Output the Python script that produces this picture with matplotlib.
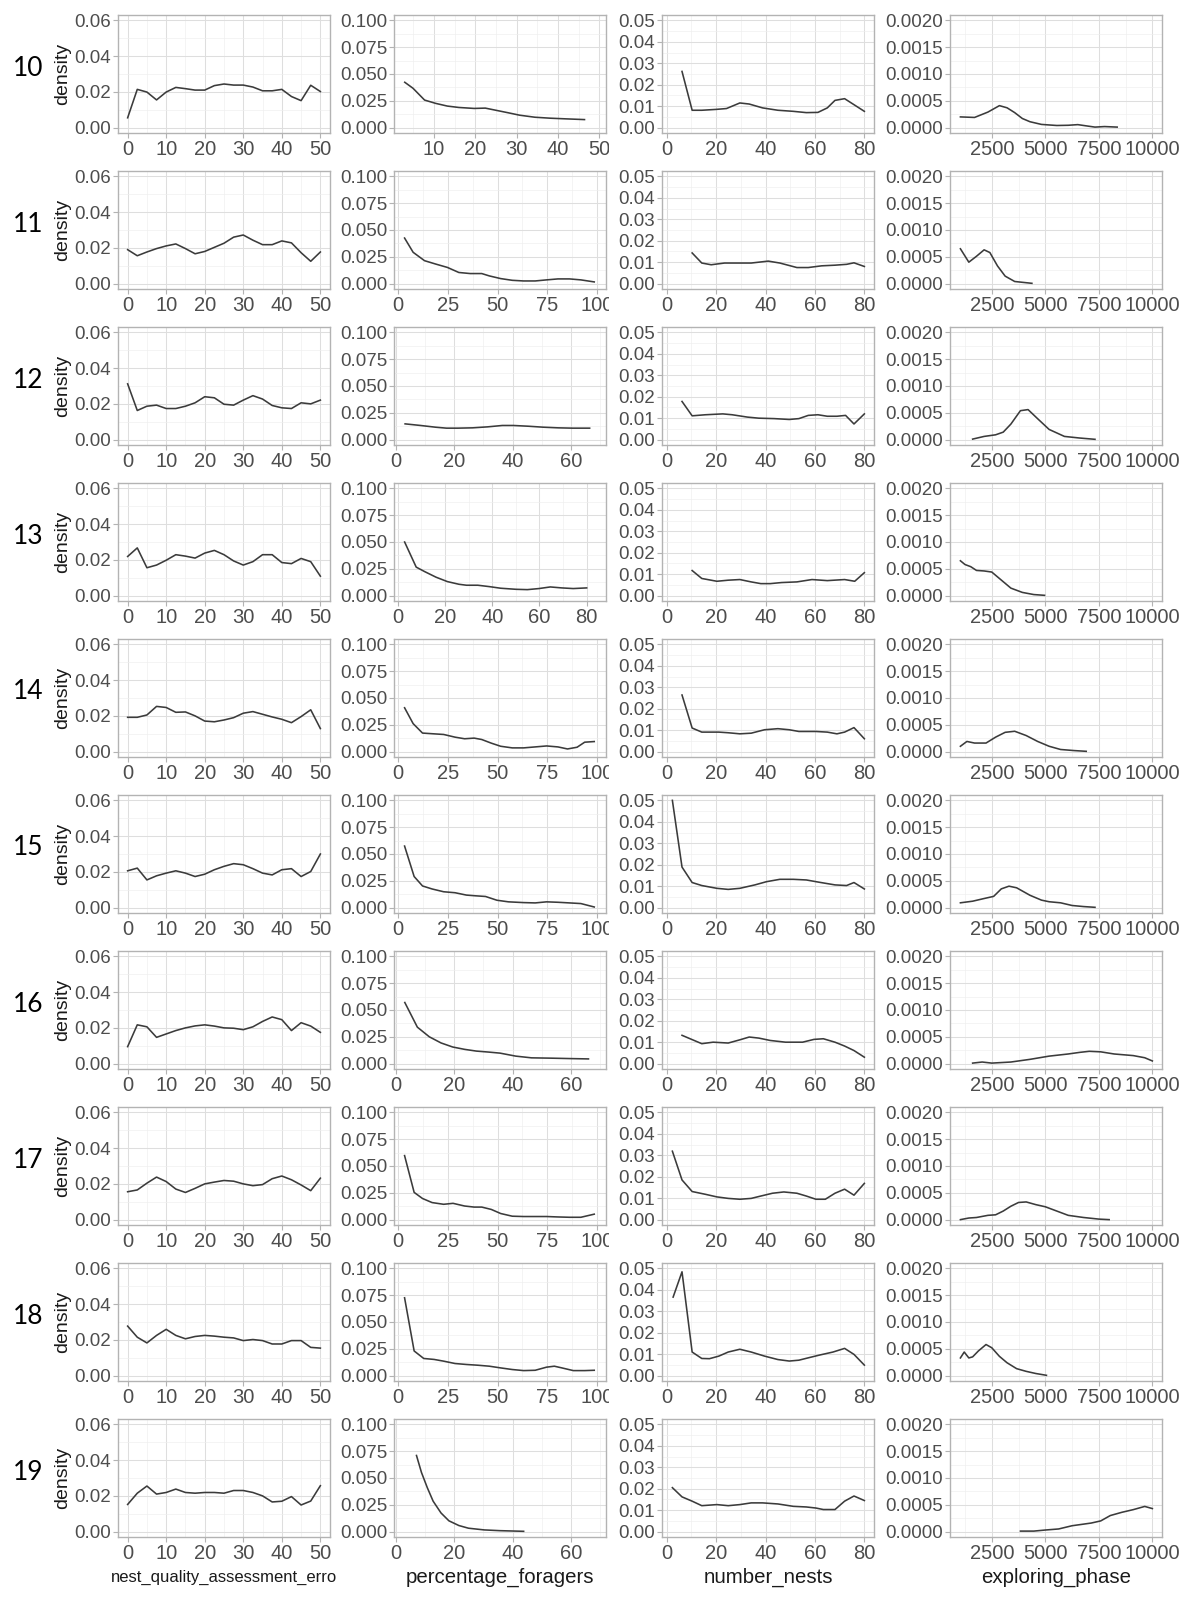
import numpy as np
import matplotlib
matplotlib.use('Agg')
import matplotlib.pyplot as plt
from matplotlib.ticker import FixedLocator, MultipleLocator, FuncFormatter
from matplotlib.transforms import Bbox, TransformedBbox

plt.rcParams['font.family'] = ['Liberation Sans', 'DejaVu Sans']

# row labels (one row of panels each)
rows = ['10', '11', '12', '13', '14', '15', '16', '17', '18', '19']
col_titles = ['nest_quality_assessment_erro', 'percentage_foragers', 'number_nests', 'exploring_phase']

# --- nest_quality_assessment_erro (shared x) ---
nqa_x = [0, 2.5, 5, 7.5, 10, 12.5, 15, 17.5, 20, 22.5, 25, 27.5, 30, 32.5, 35, 37.5, 40, 42.5, 45, 47.5, 50]
nqa_y = [
    [0.0055, 0.0214, 0.0199, 0.0155, 0.0199, 0.0225, 0.0218, 0.021, 0.021, 0.0235, 0.0244, 0.0238, 0.0238, 0.0227, 0.0206, 0.0206, 0.0214, 0.0174, 0.0151, 0.0237, 0.0202],
    [0.019, 0.0156, 0.0177, 0.0196, 0.0211, 0.0222, 0.0196, 0.0167, 0.018, 0.0203, 0.0226, 0.026, 0.0272, 0.0243, 0.0218, 0.0218, 0.0239, 0.0228, 0.0173, 0.0125, 0.0177],
    [0.0312, 0.0163, 0.0187, 0.0193, 0.0174, 0.0174, 0.0187, 0.0206, 0.024, 0.0234, 0.0198, 0.0193, 0.0221, 0.0246, 0.0227, 0.0191, 0.0178, 0.0174, 0.0206, 0.02, 0.0221],
    [0.0219, 0.0267, 0.0156, 0.0171, 0.0198, 0.0229, 0.0221, 0.021, 0.0238, 0.0253, 0.0229, 0.0194, 0.0171, 0.019, 0.0229, 0.0229, 0.0185, 0.0179, 0.0208, 0.019, 0.0109],
    [0.0192, 0.0192, 0.0205, 0.0253, 0.0247, 0.022, 0.0222, 0.02, 0.0171, 0.0167, 0.0177, 0.019, 0.0215, 0.0224, 0.0209, 0.0194, 0.0181, 0.0162, 0.0196, 0.0234, 0.0129],
    [0.0206, 0.0221, 0.0155, 0.0178, 0.0193, 0.0206, 0.0193, 0.0174, 0.0187, 0.0212, 0.0231, 0.0246, 0.024, 0.0218, 0.0193, 0.0183, 0.0212, 0.0218, 0.0174, 0.0202, 0.03],
    [0.0095, 0.0217, 0.0206, 0.0147, 0.0166, 0.0185, 0.02, 0.0211, 0.0217, 0.021, 0.02, 0.0198, 0.019, 0.0206, 0.0236, 0.0261, 0.0246, 0.0185, 0.0229, 0.021, 0.0175],
    [0.0156, 0.0166, 0.0204, 0.0238, 0.0213, 0.0171, 0.0152, 0.0175, 0.02, 0.021, 0.0219, 0.0215, 0.02, 0.019, 0.0196, 0.0229, 0.0244, 0.0223, 0.0194, 0.0162, 0.0232],
    [0.0277, 0.0215, 0.0183, 0.0225, 0.0259, 0.0225, 0.0206, 0.0219, 0.0225, 0.0221, 0.0215, 0.0211, 0.0196, 0.0202, 0.0196, 0.0177, 0.0177, 0.0196, 0.0196, 0.0158, 0.0154],
    [0.0152, 0.0215, 0.0255, 0.021, 0.0219, 0.0238, 0.0219, 0.0215, 0.0219, 0.0219, 0.0215, 0.023, 0.023, 0.0219, 0.02, 0.0166, 0.017, 0.0196, 0.0149, 0.0171, 0.0257],
]

# --- percentage_foragers ---
pf_x = [
    [2.9, 4.9, 7.7, 10.4, 13.2, 16, 19.7, 22.4, 25.2, 28, 30.7, 34.4, 38.1, 41.8, 46.4],
    [3.4, 7.7, 13.4, 19.1, 24.9, 30.6, 36.3, 42.1, 45.9, 51.6, 57.4, 63.1, 68.9, 74.6, 80.3, 86.1, 91.8, 98.5],
    [3.2, 8.5, 13.6, 17.4, 21.2, 26.3, 31.4, 36.5, 40.3, 45.4, 50.5, 55.6, 60.6, 66.4],
    [2.9, 7.8, 11.3, 16.2, 21, 25.9, 29.1, 33.9, 38.8, 43.6, 50.1, 54.9, 59.8, 64.6, 69.5, 74.3, 80],
    [3.4, 7.7, 12.4, 17.2, 23, 28.7, 33.5, 38.3, 42.1, 46.9, 51.6, 57.4, 63.1, 68.9, 74.6, 80.3, 85.1, 89.9, 93.7, 98.5],
    [3.4, 8.2, 12.4, 17.2, 23, 28.7, 34.4, 39.2, 44, 49.7, 55.5, 63.1, 68.9, 74.6, 80.3, 86.1, 91.8, 98.5],
    [3.1, 7.4, 11.5, 15.5, 19.5, 23.6, 27.6, 31.7, 35.7, 41.1, 46.5, 53.2, 60, 66],
    [3.4, 8.2, 12.4, 17.2, 23, 27.7, 33.5, 38.3, 42.1, 46.9, 51.6, 57.4, 63.1, 68.9, 74.6, 80.3, 86.1, 91.8, 98.5],
    [3.4, 8.2, 13, 18.2, 23, 28.7, 34.4, 40.2, 45.9, 51.6, 57.4, 63.1, 68.9, 74.6, 78.5, 82.3, 88, 93.7, 98.5],
    [7.1, 8.8, 10.8, 12.8, 15.5, 18.2, 21.6, 24.9, 30.3, 35.7, 43.8],
]
pf_y = [
    [0.0423, 0.0367, 0.0257, 0.0226, 0.0201, 0.0188, 0.0179, 0.0182, 0.016, 0.0138, 0.0116, 0.0097, 0.0088, 0.0082, 0.0075],
    [0.0425, 0.0292, 0.0214, 0.0182, 0.0151, 0.0104, 0.0094, 0.0094, 0.0072, 0.0047, 0.0031, 0.0025, 0.0025, 0.0035, 0.0044, 0.0044, 0.0035, 0.0016],
    [0.0147, 0.0132, 0.0116, 0.0107, 0.0107, 0.011, 0.0119, 0.0132, 0.0132, 0.0125, 0.0116, 0.011, 0.0107, 0.0107],
    [0.05, 0.0266, 0.0225, 0.0172, 0.0131, 0.0106, 0.0097, 0.0097, 0.0084, 0.0069, 0.0059, 0.0056, 0.0066, 0.0081, 0.0072, 0.0066, 0.0072],
    [0.0409, 0.0261, 0.0173, 0.0167, 0.016, 0.0135, 0.012, 0.0126, 0.0113, 0.0079, 0.005, 0.0035, 0.0035, 0.0044, 0.0053, 0.0044, 0.0025, 0.0041, 0.0088, 0.0094],
    [0.0574, 0.029, 0.0202, 0.0174, 0.0148, 0.0139, 0.0117, 0.011, 0.0104, 0.0069, 0.0054, 0.0047, 0.0044, 0.0054, 0.005, 0.0044, 0.0038, 0.0006],
    [0.057, 0.034, 0.025, 0.0193, 0.0155, 0.0133, 0.0117, 0.0108, 0.0098, 0.007, 0.0054, 0.0051, 0.0047, 0.0044],
    [0.0597, 0.0254, 0.0197, 0.0159, 0.0143, 0.0152, 0.0127, 0.0117, 0.0117, 0.0095, 0.0057, 0.0032, 0.0029, 0.0029, 0.0029, 0.0025, 0.0022, 0.0022, 0.0051],
    [0.0726, 0.023, 0.016, 0.0151, 0.0135, 0.0113, 0.0104, 0.0097, 0.0088, 0.0072, 0.0057, 0.0047, 0.005, 0.0079, 0.0088, 0.0072, 0.0047, 0.0047, 0.005],
    [0.071, 0.0552, 0.041, 0.0284, 0.0174, 0.0101, 0.0057, 0.0032, 0.0016, 0.0009, 0.0003],
]
pf_xlim = [(0.3, 51.6), (-1.9, 104.4), (-0.6, 72), (-1.6, 88.2), (-1.9, 104.4),
           (-1.9, 104.4), (-0.6, 72), (-1.9, 104.4), (-1.9, 104.4), (-0.6, 72)]
pf_xticks = [[10, 20, 30, 40, 50], [0, 25, 50, 75, 100], [0, 20, 40, 60], [0, 20, 40, 60, 80],
             [0, 25, 50, 75, 100], [0, 25, 50, 75, 100], [0, 20, 40, 60], [0, 25, 50, 75, 100],
             [0, 25, 50, 75, 100], [0, 20, 40, 60]]

# --- number_nests ---
nn_x = [
    [6.2, 10.3, 14.2, 20, 24.2, 29.6, 33.4, 38.8, 45, 51.2, 56.5, 61.2, 65, 68.1, 72, 75.8, 80],
    [10.3, 14.2, 18, 23.4, 28, 34.2, 41.1, 45.8, 52.7, 57.3, 62.7, 68.1, 72.8, 75.8, 80],
    [6.2, 10.3, 15.7, 22.7, 26.5, 32.7, 37.3, 43.5, 49.6, 53.5, 57.3, 61.2, 65, 68.9, 72.4, 75.8, 80],
    [10.3, 14.2, 20.3, 24.9, 29.6, 34.2, 38.1, 41.9, 46.5, 52.7, 58.8, 65, 72, 76.1, 80],
    [6.2, 10.3, 14.2, 21.1, 24.9, 29.6, 34.2, 39.6, 45, 49.6, 53.5, 60.4, 65, 68.9, 72, 75.8, 80],
    [2.3, 6.2, 10.3, 14.2, 20.3, 24.9, 29.6, 35.7, 40.4, 45.8, 51.2, 56.5, 61.9, 68.1, 72.8, 75.8, 80],
    [6.2, 14.2, 18.8, 24.9, 29.6, 33.4, 37.3, 41.9, 48.1, 55, 59.6, 63.4, 68.1, 72, 75.8, 80],
    [2.3, 6.2, 10.3, 15.7, 20.3, 24.9, 29.6, 34.2, 38.1, 42.8, 47.4, 52.7, 56.5, 60.4, 64.2, 68.1, 72, 75.8, 80],
    [2.6, 6.2, 10.3, 14.2, 17.3, 21.1, 24.9, 29.6, 34.2, 39.6, 45, 49.6, 53.5, 57.3, 61.9, 67.3, 72, 75.8, 80],
    [2.3, 6.2, 10.3, 14.2, 20.3, 24.9, 29.6, 34.2, 38.8, 45, 51.2, 56.5, 60.4, 63.4, 68.1, 72, 75.8, 80],
]
nn_y = [
    [0.0262, 0.0081, 0.0081, 0.0085, 0.0089, 0.0115, 0.011, 0.0092, 0.0081, 0.0076, 0.007, 0.0071, 0.0092, 0.0127, 0.0135, 0.0107, 0.0076],
    [0.0143, 0.0096, 0.0088, 0.0096, 0.0096, 0.0096, 0.0105, 0.0096, 0.0075, 0.0075, 0.0083, 0.0086, 0.009, 0.0097, 0.008],
    [0.0178, 0.0111, 0.0116, 0.012, 0.0116, 0.0105, 0.01, 0.0098, 0.0094, 0.0098, 0.0113, 0.0116, 0.0109, 0.0109, 0.0113, 0.0073, 0.012],
    [0.0117, 0.008, 0.0067, 0.0072, 0.0075, 0.0064, 0.0056, 0.0056, 0.0061, 0.0064, 0.0075, 0.007, 0.0075, 0.0067, 0.0107],
    [0.0264, 0.011, 0.0091, 0.0091, 0.0088, 0.0083, 0.0086, 0.0102, 0.0107, 0.0102, 0.0094, 0.0094, 0.0091, 0.0083, 0.0091, 0.0112, 0.006],
    [0.05, 0.0189, 0.0117, 0.0103, 0.009, 0.0085, 0.009, 0.0106, 0.0121, 0.0132, 0.0132, 0.0129, 0.0118, 0.0106, 0.0103, 0.0117, 0.0087],
    [0.0132, 0.0093, 0.01, 0.0096, 0.0111, 0.0124, 0.0119, 0.0108, 0.01, 0.01, 0.0113, 0.0116, 0.01, 0.0082, 0.0061, 0.003],
    [0.0319, 0.0185, 0.0131, 0.0118, 0.0106, 0.0099, 0.0095, 0.0099, 0.011, 0.0123, 0.0129, 0.0123, 0.011, 0.0095, 0.0095, 0.0123, 0.0142, 0.0114, 0.0169],
    [0.0366, 0.0484, 0.011, 0.008, 0.0079, 0.0091, 0.011, 0.0123, 0.011, 0.0091, 0.0075, 0.0068, 0.0072, 0.0083, 0.0096, 0.011, 0.0127, 0.0099, 0.0049],
    [0.0205, 0.0162, 0.0142, 0.0121, 0.0126, 0.0121, 0.0126, 0.0134, 0.0134, 0.0129, 0.0118, 0.0115, 0.011, 0.0103, 0.0103, 0.0142, 0.0166, 0.0145],
]

# --- exploring_phase ---
ep_x = [
    [1036, 1696, 2321, 2857, 3214, 3571, 3929, 4286, 4821, 5536, 6071, 6518, 6964, 7321, 7768, 8357],
    [1036, 1429, 1786, 2143, 2411, 2768, 3125, 3571, 4375],
    [1607, 2143, 2679, 3036, 3393, 3839, 4196, 4643, 5179, 5893, 6607, 7321],
    [1036, 1250, 1518, 1786, 2143, 2500, 2946, 3393, 3929, 4464, 4964],
    [1036, 1339, 1696, 2232, 2679, 3125, 3571, 4107, 4643, 5179, 5714, 6339, 6911],
    [1036, 1607, 2143, 2589, 2946, 3304, 3661, 4286, 4821, 5179, 5714, 6250, 6786, 7321],
    [1607, 2054, 2500, 3393, 4286, 5179, 6071, 6607, 7054, 7589, 8214, 9107, 9643, 10000],
    [1036, 1429, 1786, 2321, 2679, 3036, 3393, 3750, 4107, 4554, 5000, 5536, 6071, 6786, 7500, 7982],
    [1036, 1214, 1429, 1607, 1875, 2232, 2500, 2857, 3214, 3661, 4107, 4554, 5054],
    [3839, 4464, 5000, 5625, 6250, 6786, 7143, 7589, 8036, 8571, 9107, 9643, 10000],
]
ep_y = [
    [0.0002, 0.00019, 0.00029, 0.00041, 0.00037, 0.00028, 0.00017, 0.00011, 0.00006, 0.00004, 0.000044, 0.000056, 0.00003, 0.00001, 0.00002, 0.00001],
    [0.00065, 0.0004, 0.00051, 0.00063, 0.00058, 0.00033, 0.00014, 0.00004, 0.000006],
    [0.00001, 0.00006, 0.00009, 0.00014, 0.00029, 0.00054, 0.00056, 0.00039, 0.00019, 0.00006, 0.00003, 0.000006],
    [0.00065, 0.00058, 0.00054, 0.00047, 0.00046, 0.00044, 0.00029, 0.00014, 0.00006, 0.00002, 0.000006],
    [0.0001, 0.00019, 0.00016, 0.00016, 0.00027, 0.00036, 0.00038, 0.0003, 0.00019, 0.0001, 0.00004, 0.00002, 0.000006],
    [0.00009, 0.00012, 0.00017, 0.00021, 0.00035, 0.0004, 0.00037, 0.00023, 0.00014, 0.00011, 0.00009, 0.00004, 0.00002, 0.000006],
    [0.00001, 0.00003, 0.00001, 0.00003, 0.00008, 0.00014, 0.00018, 0.00021, 0.00023, 0.00022, 0.00018, 0.00015, 0.00011, 0.00005],
    [0.0, 0.00003, 0.00004, 0.00008, 0.00009, 0.00016, 0.00025, 0.00032, 0.00033, 0.00028, 0.00024, 0.00016, 0.00008, 0.00004, 0.00001, 0.0],
    [0.00033, 0.00044, 0.00033, 0.00035, 0.00046, 0.00058, 0.00052, 0.00036, 0.00024, 0.00013, 0.00008, 0.00004, 0.000006],
    [0.00001, 0.00001, 0.00003, 0.00005, 0.00011, 0.00014, 0.00016, 0.0002, 0.0003, 0.00036, 0.00041, 0.00047, 0.00043],
]

# axis settings per column
y_max = [0.06, 0.10, 0.05, 0.002]
y_step = [0.02, 0.025, 0.01, 0.0005]
y_fmt = ['{:.2f}', '{:.3f}', '{:.2f}', '{:.4f}']

W, H = 1187, 1602
fig = plt.figure(figsize=(W / 100, H / 100), dpi=100)
fig.patch.set_facecolor('white')

col_left = [118, 394, 662, 950]
pw, ph = 212, 118
top0, pitch = 15, 156
line_col = '#3b3b3b'
border = '#B3B3B3'

def style(ax, c):
    for s in ax.spines.values():
        s.set_color(border)
        s.set_linewidth(1.0)
    ax.set_axisbelow(True)
    ax.grid(which='major', color='#DEDEDE', lw=0.75)
    ax.grid(which='minor', color='#EEEEEE', lw=0.45)
    ax.tick_params(which='major', length=3.5, width=0.8, color=border,
                   labelcolor='#4D4D4D', pad=1.5)
    ax.tick_params(which='minor', length=0)
    ax.tick_params(axis='y', labelsize=13.5)
    ax.tick_params(axis='x', labelsize=14.5)
    ym, ys = y_max[c], y_step[c]
    ax.set_ylim(-0.05 * ym, 1.05 * ym)
    yt = [k * ys for k in range(int(round(ym / ys)) + 1)]
    ax.yaxis.set_major_locator(FixedLocator(yt))
    ax.set_yticklabels([y_fmt[c].format(v) for v in yt])
    ax.yaxis.set_minor_locator(MultipleLocator(ys / 2))

clip = TransformedBbox(Bbox([[0, 0], [609 / W, 1]]), fig.transFigure)

for r in range(len(rows)):
    top = top0 + r * pitch
    axs = []
    for c in range(4):
        ax = fig.add_axes([col_left[c] / W, 1 - (top + ph) / H, pw / W, ph / H])
        axs.append(ax)
    # column 1
    ax = axs[0]
    ax.plot(nqa_x, nqa_y[r], color=line_col, lw=1.15)
    ax.set_xlim(-2.5, 52.5)
    ax.xaxis.set_major_locator(FixedLocator([0, 10, 20, 30, 40, 50]))
    ax.xaxis.set_minor_locator(MultipleLocator(5))
    # column 2
    ax = axs[1]
    ax.plot(pf_x[r], pf_y[r], color=line_col, lw=1.15)
    ax.set_xlim(*pf_xlim[r])
    xt = pf_xticks[r]
    ax.xaxis.set_major_locator(FixedLocator(xt))
    ax.xaxis.set_minor_locator(MultipleLocator((xt[1] - xt[0]) / 2))
    # column 3
    ax = axs[2]
    ax.plot(nn_x[r], nn_y[r], color=line_col, lw=1.15)
    ax.set_xlim(-1.9, 83.9)
    ax.xaxis.set_major_locator(FixedLocator([0, 20, 40, 60, 80]))
    ax.xaxis.set_minor_locator(MultipleLocator(10))
    # column 4
    ax = axs[3]
    ax.plot(ep_x[r], ep_y[r], color=line_col, lw=1.15)
    ax.set_xlim(550, 10450)
    ax.xaxis.set_major_locator(FixedLocator([2500, 5000, 7500, 10000]))
    ax.xaxis.set_minor_locator(MultipleLocator(1250))
    for c in range(4):
        axs[c].xaxis.set_major_formatter(FuncFormatter(lambda v, p: '%d' % v))
        style(axs[c], c)
    # the "100" label is cut by the next column, like in the original
    for lab in axs[1].get_xticklabels():
        lab.set_clip_box(clip)
        lab.set_clip_on(True)

    yc = 1 - (top + ph / 2) / H
    fig.text(63 / W, yc, 'density', rotation=90, ha='center', va='center',
             fontsize=14, color='#1a1a1a')
    fig.text(28 / W, 1 - (top + 53) / H, rows[r], ha='center', va='center',
             fontsize=19, color='black', family=['Lato', 'DejaVu Sans'])

# column titles along the bottom
title_sizes = [12, 14.7, 14.7, 14.7]
for c in range(4):
    fig.text((col_left[c] + pw / 2) / W, 1 - 1577 / H, col_titles[c], ha='center',
             va='center', fontsize=title_sizes[c], color='#1a1a1a')

fig.savefig('out.png', dpi=100)
